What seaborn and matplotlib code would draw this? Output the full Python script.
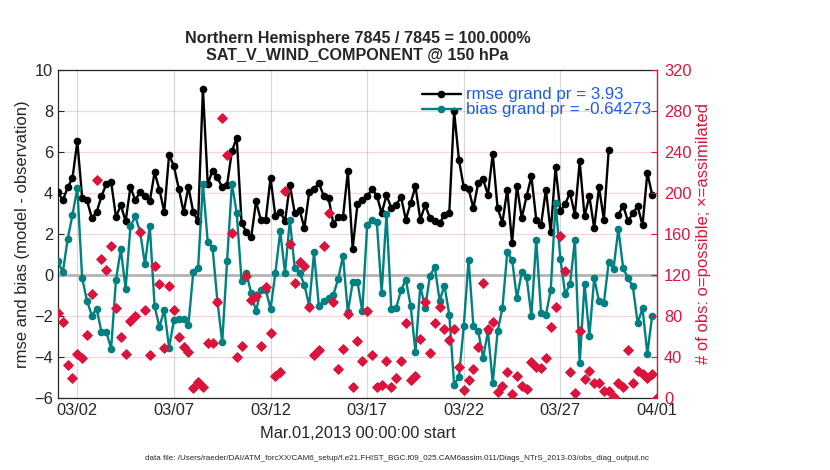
import matplotlib
matplotlib.use("Agg")
import matplotlib.pyplot as plt
import matplotlib.dates as mdates
from matplotlib.lines import Line2D
import numpy as np
import pandas as pd
import seaborn as sns

nan = np.nan

# 6-hourly bins, 2013-03-01 00:00 .. 2013-04-01 00:00
start = "2013-03-01 00:00"
n_bins = 125

rmse = [4.04, 3.65, 4.27, 4.73, 6.52, 3.77, 3.64, 2.78, 3.07, 3.84,
        4.44, 4.54, 2.83, 3.40, 2.62, 4.29, 3.64, 4.06, 3.87, 3.59,
        5.01, 4.16, 3.07, 5.87, 5.30, 4.21, 3.07, 4.29, 3.07, 2.62,
        9.09, 4.44, 5.09, 4.76, 4.27, 4.40, 6.03, 6.70, 2.54, 2.10,
        1.85, 3.59, 2.67, 2.70, 4.73, 2.86, 3.09, 2.62, 4.40, 3.02,
        3.19, 2.29, 4.03, 4.19, 4.48, 3.87, 3.77, 2.50, 2.83, 2.83,
        5.05, 1.28, 3.47, 3.64, 3.84, 4.19, 3.87, 3.02, 3.88, 3.28,
        3.40, 3.82, 2.70, 3.51, 4.32, 2.70, 3.41, 2.78, 2.62, 2.54,
        2.91, 3.02, 7.98, 5.62, 4.27, 4.19, 3.26, 4.51, 4.68, 3.91,
        5.91, 3.26, 2.56, 4.16, 1.56, 4.35, 2.78, 3.84, 4.81, 2.70,
        2.46, 4.16, 2.08, 5.25, 3.10, 3.48, 4.00, 2.94, 5.54, 2.86,
        3.84, 2.29, 4.29, 2.70, 6.08, nan, 2.94, 3.38, 2.62, 3.02,
        3.35, 2.42, 4.97, 3.92, nan]

bias = [0.66, 0.13, 1.75, 2.94, 4.24, -0.15, -1.25, -1.98, -1.64, -2.79,
        -2.79, -3.59, -0.23, 1.25, -0.66, 2.37, 2.86, 2.10, 0.53, 2.40,
        -1.53, -2.54, -1.70, -3.56, -2.18, -2.15, -2.15, -2.43, 0.13, 0.34,
        4.45, 1.61, 1.31, -1.28, -3.28, 0.68, 4.45, 3.02, -0.29, 0.10,
        -0.90, -1.77, -0.71, -0.71, -1.66, 0.10, 2.13, 0.10, 2.70, 0.34,
        0.10, -0.47, -1.50, 1.10, -1.53, -1.25, -1.12, -0.96, -0.20, 0.94,
        -1.82, -0.36, -0.36, -1.77, 2.45, 2.70, 2.57, -0.88, 2.99, -1.66,
        -1.61, -0.75, -0.23, -1.50, -3.77, -0.52, -1.61, -0.03, 0.39, -1.25,
        -0.52, -1.94, -5.35, -4.96, -2.49, 0.75, -2.51, -2.75, -4.05, -2.75,
        -5.27, -2.75, -1.62, 1.10, 0.75, -1.12, 0.13, -0.10, -1.99, 1.72,
        -1.84, -1.94, -0.74, 3.51, 0.78, -0.93, -0.45, 1.72, -4.29, -0.42,
        -2.98, -0.15, -1.29, -1.36, 0.62, 0.31, 2.24, 0.34, -0.15, -0.56,
        -2.35, -1.62, -3.84, -1.98, nan]

n_obs = [83, 74, 32, 20, 43, 39, 61, 101, 213, 136,
         125, 148, 88, 60, 43, 75, 80, 162, 86, 42,
         129, 111, 49, 109, 86, 60, 50, 45, 10, 16,
         11, 54, 54, 94, 273, 237, 161, 40, 51, 119,
         96, 100, 51, 108, 63, 21, 25, 202, 150, 112,
         133, 129, 89, 42, 47, 148, 180, 94, 28, 48,
         82, 11, 56, 36, 85, 42, 11, 13, 36, 11,
         20, 36, 73, 18, 21, 58, 94, 44, 73, 89,
         67, 57, 67, 30, 8, 18, 28, 50, 112, 67,
         74, 6, 12, 25, 4, 21, 12, 9, 35, 30,
         29, 39, 69, 89, 158, 124, 25, 5, 65, 19,
         26, 15, 15, 7, 7, 1, 15, 11, 47, 15,
         26, 23, 20, 23, 0]

tick_days = ["2013-03-02", "2013-03-07", "2013-03-12", "2013-03-17",
             "2013-03-22", "2013-03-27", "2013-04-01"]

rmse_label = "rmse grand pr = 3.93"
bias_label = "bias grand pr = -0.64273"

times = pd.date_range(start, periods=n_bins, freq="6h")
df = pd.DataFrame({"time": times, "rmse": rmse, "bias": bias, "nobs": n_obs})
# segment ids so that missing bins leave gaps in the lines
df["seg_r"] = df["rmse"].isna().cumsum()
df["seg_b"] = df["bias"].isna().cumsum()

crimson = "#DC143C"
teal = "#008080"
legend_blue = "#1a5cf2"
txt = "#262626"

sns.set_style("white")
plt.rcParams["font.family"] = ["Liberation Sans", "DejaVu Sans"]

fig = plt.figure(figsize=(8.3, 4.7), dpi=100)
ax = fig.add_axes([58 / 830, 1 - 398 / 470, 599 / 830, 328 / 470])

ax.axhline(0, color="#b4b4b4", lw=2, zorder=1)

sns.lineplot(data=df.dropna(subset=["rmse"]), x="time", y="rmse", units="seg_r",
             estimator=None, color="black", lw=1.7, marker="o", markersize=5.5,
             markeredgewidth=0, ax=ax, zorder=3)
sns.lineplot(data=df.dropna(subset=["bias"]), x="time", y="bias", units="seg_b",
             estimator=None, color=teal, lw=1.7, marker="o", markersize=5.5,
             markeredgewidth=0, ax=ax, zorder=4)

ax.set_xlim(times[0], times[-1])
ax.set_ylim(-6, 10)
ax.set_yticks(range(-6, 11, 2))
ax.set_xticks(pd.to_datetime(tick_days))
ax.xaxis.set_major_formatter(mdates.DateFormatter("%m/%d"))
ax.tick_params(axis="both", direction="in", length=4, labelsize=11.8, colors=txt,
               labelcolor=txt)
ax.tick_params(axis="y", right=False)
ax.grid(axis="x", color="#d9d9d9", lw=0.9)
ax.grid(axis="y", color=crimson, alpha=0.18, lw=0.9)
ax.set_axisbelow(True)
ax.set_xlabel("Mar.01,2013 00:00:00 start", fontsize=11.8, labelpad=6, color=txt)
ax.set_ylabel("rmse and bias (model - observation)", fontsize=12, labelpad=3,
              color=txt)
ax.set_title("Northern Hemisphere 7845 / 7845 = 100.000%\n"
             "SAT_V_WIND_COMPONENT @ 150 hPa",
             fontsize=11.6, fontweight="bold", pad=7, linespacing=1.2)
for s in ["left", "bottom", "top"]:
    ax.spines[s].set_color(txt)
    ax.spines[s].set_linewidth(0.9)

handles = [Line2D([], [], color="black", lw=1.7, marker="o", markersize=5.5,
                  markeredgewidth=0),
           Line2D([], [], color=teal, lw=1.7, marker="o", markersize=5.5,
                  markeredgewidth=0)]
leg = ax.legend(handles, [rmse_label, bias_label], loc="upper right",
                bbox_to_anchor=(1.01, 0.983), frameon=False, fontsize=12.2,
                handlelength=2.3, handletextpad=0.3, labelspacing=0.0,
                borderaxespad=0.3)
for t in leg.get_texts():
    t.set_color(legend_blue)

ax2 = ax.twinx()
sns.scatterplot(data=df, x="time", y="nobs", marker="o", s=30, color=crimson,
                edgecolor=crimson, linewidth=0, ax=ax2, zorder=5)
sns.scatterplot(data=df, x="time", y="nobs", marker="D", s=32, color=crimson,
                edgecolor=crimson, linewidth=0, ax=ax2, zorder=5)
ax2.set_ylim(0, 320)
ax2.set_yticks(range(0, 321, 40))
ax2.set_xlim(times[0], times[-1])
ax2.tick_params(axis="y", direction="in", length=4, pad=5, labelsize=11.8,
                colors=crimson)
ax2.set_ylabel("# of obs: o=possible; \u00d7=assimilated", fontsize=12, color=crimson,
               labelpad=3)
ax2.spines["right"].set_color(crimson)
ax2.spines["right"].set_linewidth(0.9)
for s in ["left", "bottom", "top"]:
    ax2.spines[s].set_visible(False)
ax2.grid(False)

fig.text(397 / 830, 1 - 458 / 470,
         "data file: /Users/raeder/DAI/ATM_forcXX/CAM6_setup/f.e21.FHIST_BGC.f09_025."
         "CAM6assim.011/Diags_NTrS_2013-03/obs_diag_output.nc",
         ha="center", va="center", fontsize=5.75)

fig.savefig("out.png", dpi=100)
